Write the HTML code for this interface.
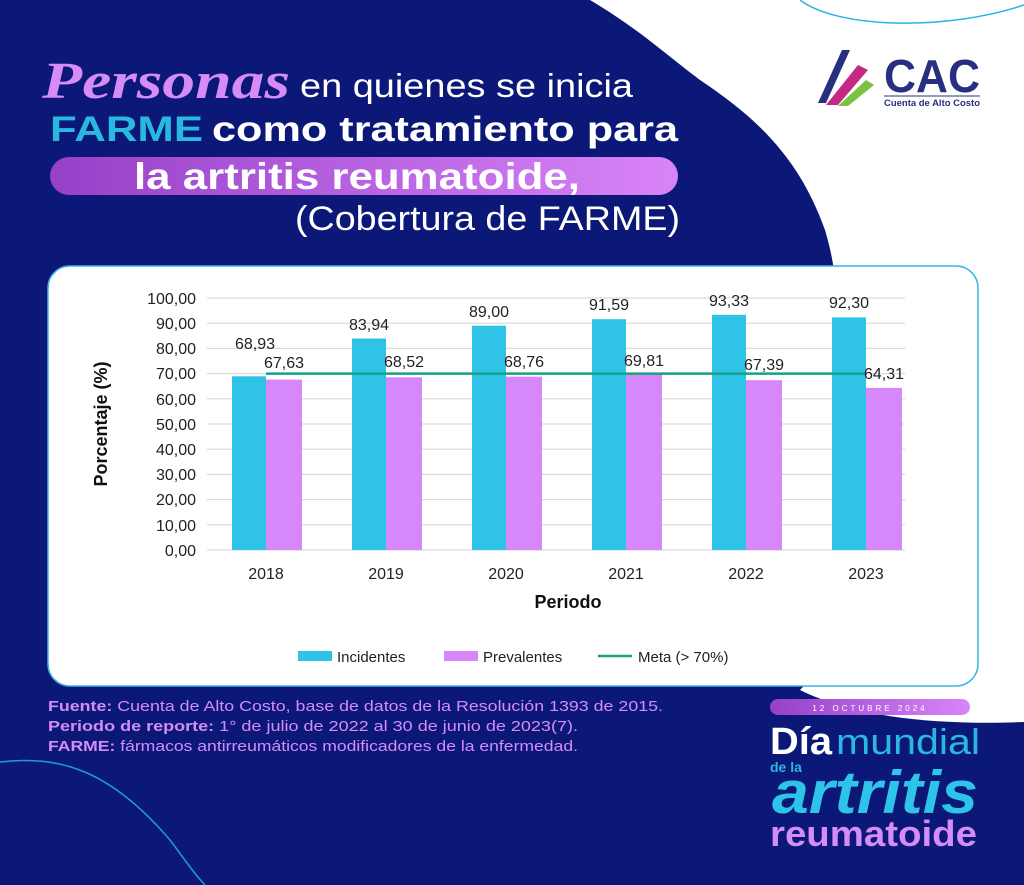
<!DOCTYPE html>
<html><head><meta charset="utf-8"><style>
body{margin:0;width:1024px;height:885px;overflow:hidden;background:#0b1878;font-family:"Liberation Sans",sans-serif;}
</style></head><body>
<svg width="1024" height="885" viewBox="0 0 1024 885" xmlns="http://www.w3.org/2000/svg" style="position:absolute;left:0;top:0">
<rect width="1024" height="885" fill="#0b1878"/>
<path d="M590,0 C640,30 660,50 700,80 C760,120 800,160 825,230 C840,280 840,330 840,400 L840,600 C835,650 810,680 800,690 C860,720 950,725 1024,722 L1024,0 Z" fill="#fff"/>
<path d="M800,0 C840,30 950,30 1024,5" fill="none" stroke="#2ab4e0" stroke-width="1.5"/>
<path d="M0,762 C60,755 110,770 170,840 C185,860 195,875 205,885" fill="none" stroke="#1e9ad6" stroke-width="1.5"/>
<path d="M818,103 L842,50 L850,50 L826,103Z" fill="#27307e"/>
<path d="M826,105 L858,65 L868,70 L838,105Z" fill="#c42a85"/>
<path d="M838,106 L866,80 L874,85 L848,106Z" fill="#7bc142"/>
<text x="884" y="92" font-size="46" font-weight="bold" fill="#27307e" textLength="96" lengthAdjust="spacingAndGlyphs">CAC</text>
<line x1="884" y1="96" x2="980" y2="96" stroke="#27307e" stroke-width="1"/>
<text x="884" y="106" font-size="9.5" fill="#27307e" font-weight="bold" textLength="96" lengthAdjust="spacingAndGlyphs">Cuenta de Alto Costo</text>
<text x="42" y="98" font-size="52" font-style="italic" font-weight="bold" fill="#d68cf7" font-family="Liberation Serif,serif" textLength="248" lengthAdjust="spacingAndGlyphs">Personas</text>
<text x="300" y="97" font-size="33" fill="#fff" textLength="333" lengthAdjust="spacingAndGlyphs">en quienes se inicia</text>
<text x="50" y="141" font-size="35" font-weight="bold" fill="#2ab8e0" textLength="153" lengthAdjust="spacingAndGlyphs">FARME</text>
<text x="212" y="141" font-size="35" font-weight="bold" fill="#fff" textLength="466" lengthAdjust="spacingAndGlyphs">como tratamiento para</text>
<defs><linearGradient id="g" x1="0" x2="1"><stop offset="0" stop-color="#9640c8"/><stop offset="1" stop-color="#d985f8"/></linearGradient></defs>
<rect x="50" y="157" width="628" height="38" rx="19" fill="url(#g)"/>
<text x="134" y="189" font-size="37" font-weight="bold" fill="#fff" textLength="446" lengthAdjust="spacingAndGlyphs">la artritis reumatoide,</text>
<text x="295" y="230" font-size="34" fill="#fff" textLength="385" lengthAdjust="spacingAndGlyphs">(Cobertura de FARME)</text>
<rect x="48" y="266" width="930" height="420" rx="22" fill="#fff" stroke="#39b6e6" stroke-width="1.5"/>
<g stroke="#d9d9d9" stroke-width="1.2">
<line x1="207" x2="905" y1="298" y2="298"/><line x1="207" x2="905" y1="323.2" y2="323.2"/><line x1="207" x2="905" y1="348.4" y2="348.4"/><line x1="207" x2="905" y1="373.6" y2="373.6"/><line x1="207" x2="905" y1="398.8" y2="398.8"/><line x1="207" x2="905" y1="424" y2="424"/><line x1="207" x2="905" y1="449.2" y2="449.2"/><line x1="207" x2="905" y1="474.4" y2="474.4"/><line x1="207" x2="905" y1="499.6" y2="499.6"/><line x1="207" x2="905" y1="524.8" y2="524.8"/><line x1="207" x2="905" y1="550" y2="550"/>
</g>
<g font-size="16" fill="#222" text-anchor="end">
<text x="196" y="304">100,00</text><text x="196" y="329">90,00</text><text x="196" y="354">80,00</text><text x="196" y="379">70,00</text><text x="196" y="405">60,00</text><text x="196" y="430">50,00</text><text x="196" y="455">40,00</text><text x="196" y="480">30,00</text><text x="196" y="505">20,00</text><text x="196" y="531">10,00</text><text x="196" y="556">0,00</text>
</g>
<text transform="translate(107,424) rotate(-90)" font-size="18" font-weight="bold" fill="#111" text-anchor="middle">Porcentaje (%)</text>
<g fill="#2fc3e8">
<rect x="232" y="376.3" width="34" height="173.7"/><rect x="352" y="338.5" width="34" height="211.5"/><rect x="472" y="325.7" width="34" height="224.3"/><rect x="592" y="319.2" width="34" height="230.8"/><rect x="712" y="314.8" width="34" height="235.2"/><rect x="832" y="317.4" width="34" height="232.6"/>
</g>
<g fill="#d687f9">
<rect x="266" y="379.6" width="36" height="170.4"/><rect x="386" y="377.3" width="36" height="172.7"/><rect x="506" y="376.7" width="36" height="173.3"/><rect x="626" y="374.1" width="36" height="175.9"/><rect x="746" y="380.2" width="36" height="169.8"/><rect x="866" y="387.9" width="36" height="162.1"/>
</g>
<line x1="266" x2="866" y1="373.6" y2="373.6" stroke="#13a383" stroke-width="2.5"/>
<g font-size="16" fill="#222" text-anchor="middle">
<text x="255" y="349">68,93</text><text x="284" y="368">67,63</text>
<text x="369" y="330">83,94</text><text x="404" y="367">68,52</text>
<text x="489" y="317">89,00</text><text x="524" y="367">68,76</text>
<text x="609" y="310">91,59</text><text x="644" y="366">69,81</text>
<text x="729" y="306">93,33</text><text x="764" y="370">67,39</text>
<text x="849" y="308">92,30</text><text x="884" y="379">64,31</text>
</g>
<g font-size="16" fill="#222" text-anchor="middle">
<text x="266" y="579">2018</text><text x="386" y="579">2019</text><text x="506" y="579">2020</text><text x="626" y="579">2021</text><text x="746" y="579">2022</text><text x="866" y="579">2023</text>
</g>
<text x="568" y="608" font-size="18" font-weight="bold" fill="#111" text-anchor="middle">Periodo</text>
<rect x="298" y="651" width="34" height="10" fill="#2fc3e8"/><text x="337" y="662" font-size="15" fill="#222">Incidentes</text>
<rect x="444" y="651" width="34" height="10" fill="#d687f9"/><text x="483" y="662" font-size="15" fill="#222">Prevalentes</text>
<line x1="598" x2="632" y1="656" y2="656" stroke="#13a383" stroke-width="2.5"/><text x="638" y="662" font-size="15" fill="#222">Meta (&gt; 70%)</text>
<g font-size="15" fill="#d68cf7">
<text x="48" y="711" textLength="615" lengthAdjust="spacingAndGlyphs"><tspan font-weight="bold">Fuente:</tspan> Cuenta de Alto Costo, base de datos de la Resolución 1393 de 2015.</text>
<text x="48" y="731" textLength="530" lengthAdjust="spacingAndGlyphs"><tspan font-weight="bold">Periodo de reporte:</tspan> 1° de julio de 2022 al 30 de junio de 2023(7).</text>
<text x="48" y="751" textLength="530" lengthAdjust="spacingAndGlyphs"><tspan font-weight="bold">FARME:</tspan> fármacos antirreumáticos modificadores de la enfermedad.</text>
</g>
<rect x="770" y="699" width="200" height="16" rx="8" fill="url(#g)"/>
<text x="870" y="711" font-size="8" fill="#fff" text-anchor="middle" letter-spacing="3">12 OCTUBRE 2024</text>
<text x="770" y="754" font-size="38" font-weight="bold" fill="#fff" textLength="62" lengthAdjust="spacingAndGlyphs">Día</text>
<text x="836" y="754" font-size="36" fill="#2ab8e0" textLength="144" lengthAdjust="spacingAndGlyphs">mundial</text>
<text x="770" y="772" font-size="14" font-weight="bold" fill="#2ab8e0">de la</text>
<text x="772" y="813" font-size="60" font-weight="bold" font-style="italic" fill="#2ec3e8" textLength="206" lengthAdjust="spacingAndGlyphs">artritis</text>
<text x="770" y="846" font-size="36" font-weight="bold" fill="#d68cf7" textLength="207" lengthAdjust="spacingAndGlyphs">reumatoide</text>
</svg>
</body></html>
